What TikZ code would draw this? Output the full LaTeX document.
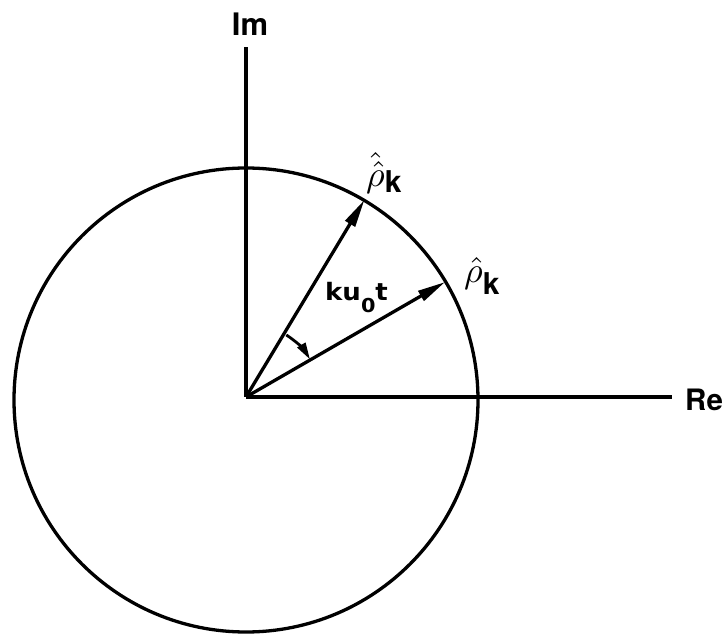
\documentclass[tikz,border=0pt]{standalone}
\usepackage{fontspec}
\setsansfont{TeX Gyre Heros}
\newfontfamily\dejavufam{DejaVu Sans}
\usetikzlibrary{arrows.meta}
\begin{document}
\begin{tikzpicture}[x=1pt,y=1pt,
  line/.style={line width=3.3pt},
  vec/.style={line width=3.3pt,-{Triangle[length=28pt,width=11pt]}},
  txt/.style={inner sep=0pt,font=\fontsize{10}{12}\selectfont}]
\useasboundingbox (-246,-237) rectangle (482,397);
\coordinate (O) at (0,0);
\coordinate (imtop) at (0,350);
\coordinate (reend) at (426,0);
\node[circle,draw,line width=3.3pt,minimum size=464pt,inner sep=0pt] (C) at (0,-3) {};
\draw[line] (O) -- (imtop);
\draw[line] (O) -- (reend);
\coordinate (p1) at (30:230);
\coordinate (p2) at (59:230);
\draw[vec] (O) -- (p1);
\draw[vec] (O) -- (p2);
\draw[line width=2.8pt,-{Triangle[length=17pt,width=9pt]}] (57:74) arc[start angle=57,end angle=31,radius=76];
\node[txt] (im) at (4,373) {\scalebox{3.1}{\sffamily\bfseries Im}};
\node[txt,anchor=west] (re) at (439,-3) {\scalebox{2.95}{\sffamily\bfseries Re}};
\node[txt,anchor=base west] (ang) at (79,96) {\scalebox{2.6}[2.4]{\dejavufam\bfseries ku\raisebox{-5pt}{\fontsize{8}{9}\selectfont 0}t}};
\node[txt,anchor=base west] (r2) at (120,210) {\scalebox{3.6}{$\hat{\hat{\rho}}$}\scalebox{3}{\raisebox{-1.7pt}{\sffamily\bfseries k}}};
\node[txt,anchor=base west] (r1) at (218,114) {\scalebox{3.6}{$\hat{\rho}$}\scalebox{3}{\raisebox{-4pt}{\sffamily\bfseries k}}};
\end{tikzpicture}
\end{document}
